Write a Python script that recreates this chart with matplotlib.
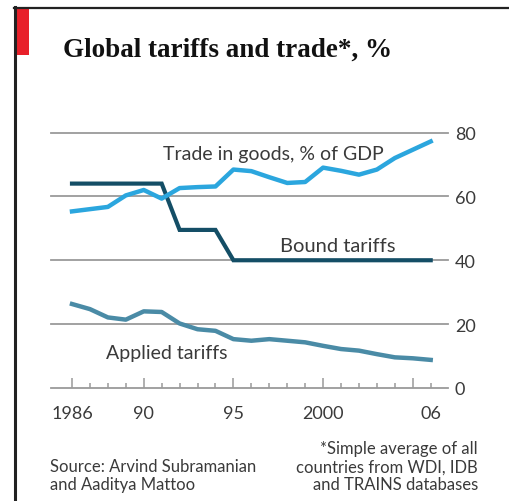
import matplotlib
matplotlib.use("Agg")
import matplotlib.pyplot as plt
import matplotlib.transforms as mtransforms
from matplotlib.patches import Rectangle
from matplotlib.lines import Line2D

years = list(range(1986, 2007))
trade = [55.3, 56.0, 56.7, 60.3, 62.0, 59.3, 62.6, 62.9, 63.1, 68.4, 67.9,
         66.0, 64.2, 64.5, 69.0, 68.0, 66.8, 68.4, 72.0, 74.6, 77.2]
bound = [64, 64, 64, 64, 64, 64, 49.5, 49.5, 49.5, 40, 40,
         40, 40, 40, 40, 40, 40, 40, 40, 40, 40]
applied = [26.3, 24.7, 22.1, 21.4, 24.0, 23.8, 20.2, 18.4, 17.9, 15.3, 14.8,
           15.3, 14.8, 14.3, 13.2, 12.2, 11.7, 10.6, 9.6, 9.3, 8.8]
y_ticks = [0, 20, 40, 60, 80]
x_label_years = [1986, 1990, 1995, 2000, 2006]
x_labels = ["1986", "90", "95", "2000", "06"]
major_tick_years = [1986, 1990, 1995, 2000, 2005]
source_lines = ["Source: Arvind Subramanian", "and Aaditya Mattoo"]
note_lines = ["*Simple average of all", "countries from WDI, IDB", "and TRAINS databases"]

W, H = 509, 502
fig = plt.figure(figsize=(W / 100, H / 100), dpi=100)
fig.patch.set_facecolor("white")

def fx(px):
    return px / W

def fy(py):
    return 1 - py / H

# border and red tab
fig.add_artist(Line2D([fx(14.5), fx(14.5)], [fy(8), fy(502)], color="#222222", lw=2.2))
fig.add_artist(Line2D([fx(14), fx(509)], [fy(8.5), fy(8.5)], color="#222222", lw=1.6))
fig.add_artist(Rectangle((fx(15.5), fy(56)), fx(13), (56 - 10) / H, color="#e8202a", lw=0))

fig.text(fx(63), fy(57), "Global tariffs and trade*, %", family="Liberation Serif",
         weight="bold", fontsize=19.5, color="#111111", va="baseline", ha="left")

left_px, right_px = 51, 448
x0_px, x1_px = 72, 430.7
ppy = (x1_px - x0_px) / 20
xmin = 1986 - (x0_px - left_px) / ppy
xmax = 2006 + (right_px - x1_px) / ppy
bot_px, top_px = 389, 133.5
ax_h = bot_px - top_px
ax = fig.add_axes([fx(left_px), fy(bot_px), (right_px - left_px) / W, ax_h / H])
ax.set_xlim(xmin, xmax)
ax.set_ylim(0, 80)
ax.patch.set_alpha(0)
for s in ax.spines.values():
    s.set_visible(False)

for v in y_ticks:
    ax.axhline(v, color="#9a9a9a", lw=1.3, zorder=1, clip_on=False)

font = "Lato"
txtc = "#3a3a3a"
ax.yaxis.tick_right()
ax.set_yticks(y_ticks)
ax.set_yticklabels([str(v) for v in y_ticks], family=font, fontsize=13, color=txtc)
ax.tick_params(axis="y", length=0, pad=5)

ax.set_xticks(major_tick_years)
ax.set_xticklabels([])
ax.set_xticks(years, minor=True)
ax.tick_params(axis="x", which="major", direction="in", length=7, width=1.1, color="#9a9a9a")
ax.tick_params(axis="x", which="minor", direction="in", length=3.5, width=1.1, color="#9a9a9a")

trans = mtransforms.blended_transform_factory(ax.transData, ax.transAxes)
for yr, lab in zip(x_label_years, x_labels):
    ax.text(yr, -(414 - bot_px) / ax_h, lab, transform=trans, ha="center", va="center",
            family=font, fontsize=13, color=txtc)

ax.plot(years, trade, color="#2ba6de", lw=3.2, solid_joinstyle="round", zorder=3)
ax.plot(years, bound, color="#144e66", lw=3.0, solid_joinstyle="miter", zorder=2)
ax.plot(years, applied, color="#4a8ba6", lw=3.2, solid_joinstyle="round", zorder=3)

ax.text(1991.1, 73.5, "Trade in goods, % of GDP", family=font, fontsize=14,
        color=txtc, va="center", ha="left")
ax.text(1997.6, 44.5, "Bound tariffs", family=font, fontsize=14.5,
        color=txtc, va="center", ha="left")
ax.text(1987.9, 11.0, "Applied tariffs", family=font, fontsize=14,
        color=txtc, va="center", ha="left")

for i, line in enumerate(source_lines):
    fig.text(fx(50), fy(467 + 17.8 * i), line, family=font, fontsize=12,
             color=txtc, va="center", ha="left")
for i, line in enumerate(note_lines):
    fig.text(fx(478), fy(449.5 + 17.8 * i), line, family=font, fontsize=12,
             color=txtc, va="center", ha="right")

fig.savefig("out.png", dpi=100, facecolor="white")
